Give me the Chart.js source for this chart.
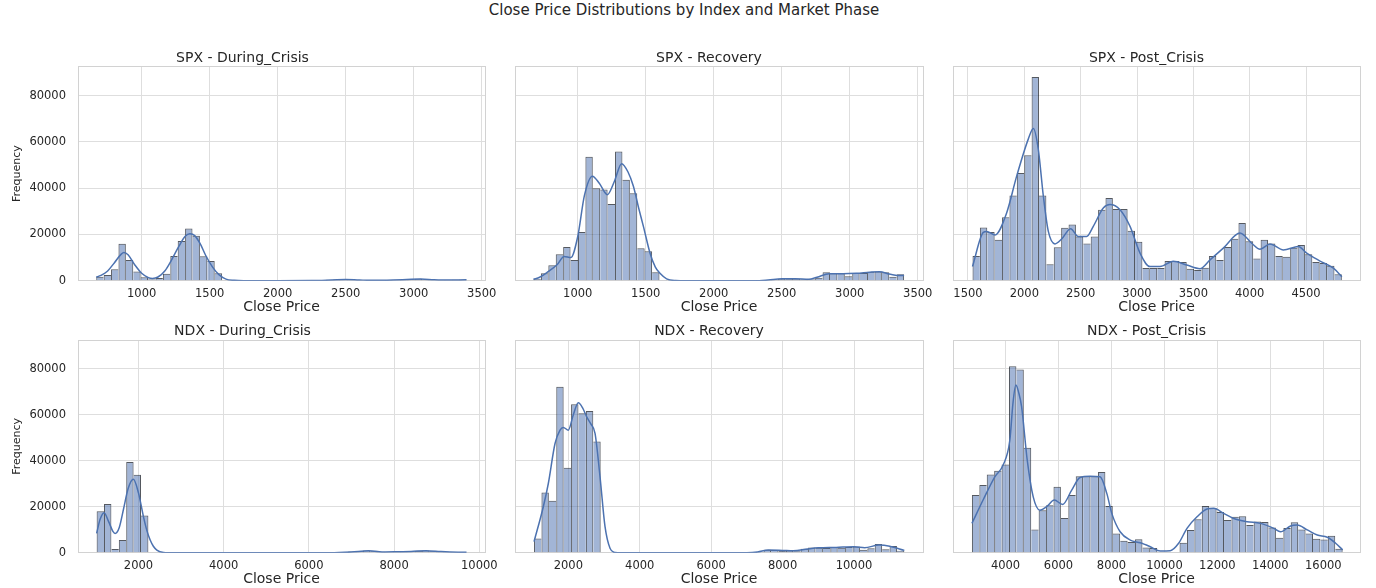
<!DOCTYPE html>
<html>
<head>
<meta charset="utf-8">
<script src="https://cdn.jsdelivr.net/npm/chart.js"></script>
<style>
html, body { margin: 0; padding: 0; background: #ffffff; }
body { width: 1376px; height: 588px; position: relative; overflow: hidden; font-family: 'DejaVu Sans', sans-serif; }
#suptitle { position: absolute; left: 0; top: 0; width: 1368px; text-align: center; font-size: 15px; line-height: 21px; color: #262626; }
canvas { position: absolute; }
</style>
</head>
<body>
<div id="suptitle">Close Price Distributions by Index and Market Phase</div>
<canvas id="c0"></canvas>
<canvas id="c1"></canvas>
<canvas id="c2"></canvas>
<canvas id="c3"></canvas>
<canvas id="c4"></canvas>
<canvas id="c5"></canvas>
<script>
// ---------------- DATA ----------------
const yTicks = [0, 20000, 40000, 60000, 80000];
const yMax = 92500;

const spxTicks = [1000, 1500, 2000, 2500, 3000, 3500];
const spxPostTicks = [1500, 2000, 2500, 3000, 3500, 4000, 4500];
const ndxTicks = [2000, 4000, 6000, 8000, 10000];
const ndxPostTicks = [4000, 6000, 8000, 10000, 12000, 14000, 16000];

// SPX - During_Crisis
const spxCrisisRange = [666, 3388];
const spxCrisisXLim = [532, 3524];
const spxCrisisCounts = [1700,2500,5000,16000,9000,4000,1500,600,1200,3000,10700,17200,22600,19400,10600,8500,3200,200,0,0,0,0,0,0,0,0,0,0,0,0,200,400,500,400,200,0,0,0,200,300,300,400,600,800,500,200,0,300,400,500];
const spxCrisisKdeX = [666,700,750,800,850,870,900,950,1000,1050,1080,1120,1170,1220,1270,1320,1355,1390,1430,1470,1520,1570,1620,1680,1750,2000,2250,2400,2500,2600,2700,2850,2950,3050,3150,3250,3388];
const spxCrisisKdeY = [1500,2300,4200,7800,11500,12200,11200,6800,3200,1300,1000,1600,4200,9000,14500,19200,20300,19500,16000,11000,6000,2500,700,150,0,0,50,300,500,300,150,300,500,700,400,250,400];

// SPX - Recovery
const spxRecovRange = [675, 3400];
const spxRecovXLim = [539, 3539];
const spxRecovCounts = [870,3200,6700,11400,14600,9000,21000,53600,40000,39400,33200,55800,43600,37800,14000,12750,3600,300,0,0,0,0,0,0,0,0,0,0,0,0,100,200,500,870,870,870,600,600,1300,3600,3200,3200,1900,3300,3300,3900,4000,3600,1700,2750];
const spxRecovKdeX = [675,720,780,850,900,950,1000,1050,1108,1160,1218,1270,1323,1370,1409,1450,1483,1532,1570,1605,1654,1720,1800,2300,2400,2500,2600,2700,2760,2850,2950,3050,3150,3220,3290,3350,3400];
const spxRecovKdeY = [600,1500,3800,7000,10500,10000,19000,37000,45200,42000,37200,43000,50600,47000,40900,31000,23500,11900,6000,3200,800,100,0,0,300,800,800,600,1500,3000,3000,3200,3700,3900,2900,2300,2200];

// SPX - Post_Crisis
const spxPostRange = [1540, 4818];
const spxPostXLim = [1367, 4979];
const spxPostCounts = [10700,23000,21000,17700,27400,36800,46500,54200,88000,36800,7100,14500,22900,24300,19100,16100,19100,30700,35800,31000,31000,21600,16800,5500,5500,5500,8500,8500,8100,5200,4600,5650,10700,9000,14600,18100,24900,17100,9600,17700,16100,10700,10300,14200,15400,11400,8100,7700,6500,2750];
const spxPostKdeX = [1540,1636,1666,1740,1843,1932,2035,2080,2124,2169,2213,2272,2331,2411,2479,2553,2612,2701,2760,2849,2938,3027,3115,3204,3322,3441,3559,3648,3766,3914,4018,4092,4180,4299,4432,4506,4624,4743,4818];
const spxPostKdeY = [6100,20900,21300,19800,29300,45200,61200,65800,56800,36500,21300,15900,18000,22500,19100,19100,23500,31400,32900,30700,23500,11900,6100,6100,8400,6800,5200,9000,14100,20600,16200,13600,15900,13300,14800,11900,8500,5400,1700];

// NDX - During_Crisis
const ndxCrisisRange = [1018, 9700];
const ndxCrisisXLim = [581, 10134];
const ndxCrisisCounts = [18000,21200,1600,5500,39400,33900,16200,0,0,0,0,0,0,0,0,0,0,0,0,0,0,0,0,0,0,0,0,0,0,0,0,0,0,200,500,700,1000,800,300,200,400,500,500,700,1000,900,600,300,200,300];
const ndxCrisisKdeX = [1018,1100,1193,1300,1400,1451,1550,1650,1760,1882,2000,2118,2200,2275,2350,2432,2588,2700,6500,7000,7400,7800,8100,8400,8750,9100,9500,9700];
const ndxCrisisKdeY = [8400,14500,17400,13500,9300,8400,11000,19000,28000,31900,26000,15600,9500,5500,2800,1160,100,0,0,300,800,300,400,500,900,500,200,150];

// NDX - Recovery
const ndxRecovRange = [1040, 11410];
const ndxRecovXLim = [507, 11932];
const ndxRecovCounts = [6200,26200,22600,72200,36900,64600,60600,61600,48400,0,0,0,0,0,0,0,0,0,0,0,0,0,0,0,0,0,0,0,0,100,400,1300,1150,700,870,870,1700,2300,2200,2000,2500,2200,2500,2750,1300,1900,3800,1450,2900,870];
const ndxRecovKdeX = [1040,1300,1440,1628,1768,1860,2000,2140,2280,2400,2514,2630,2748,2888,3028,3168,3308,3500,7000,7300,7600,8000,8300,8700,9000,9500,10000,10300,10700,11000,11410];
const ndxRecovKdeY = [4800,20000,30100,47500,53300,54500,53300,60000,65200,63000,59100,56000,51900,33000,11300,1900,100,0,0,300,1200,1000,800,1600,2100,2300,2600,2200,3300,2800,1000];

// NDX - Post_Crisis
const ndxPostRange = [2730, 16730];
const ndxPostXLim = [2016, 17385];
const ndxPostCounts = [25100,29400,34000,35600,38400,81100,79700,45600,10100,18500,20600,28700,15100,25100,33300,33300,33300,35100,20300,8400,5200,4600,5800,2300,2000,0,0,0,4300,9900,14500,20300,19400,17700,14200,15600,15900,12000,13600,13300,11000,6500,10700,13200,10100,8400,6100,5700,7400,1700];
const ndxPostKdeX = [2730,3152,3595,3909,4163,4280,4390,4500,4606,4819,5045,5298,5552,5840,6158,6498,6813,7191,7570,7823,8012,8327,8706,9085,9464,9842,10221,10536,10852,11230,11609,11859,12237,12616,13121,13626,14130,14383,14762,15015,15394,15772,16151,16466,16730];
const ndxPostKdeY = [12750,22900,33000,38100,49000,65000,72900,69500,63500,40300,24300,18500,20000,22900,21000,27200,32700,33300,33000,25800,17100,9100,5500,4300,2600,700,870,4100,10600,15600,19000,19300,17100,14900,13500,12750,10600,9100,11600,12000,9900,7700,6700,4100,1200];

// ---------------- STYLE / LAYOUT ----------------
const TEXT = '#262626';
const GRID = '#dedede';
const FRAME = '#d2d2d2';
const FILL = 'rgba(76,114,176,0.52)';
const EDGE = 'rgba(20,25,35,0.72)';
const LINE = '#4C72B0';

Chart.defaults.font.family = "'DejaVu Sans', sans-serif";
Chart.defaults.color = TEXT;

const layoutCols = [
  { left: 0,   yw: 78, width: 505, pr: 20 },
  { left: 495, yw: 20, width: 448, pr: 20 },
  { left: 933, yw: 20, width: 441, pr: 14 }
];
const layoutRows = [
  { top: 45,  height: 271, titleTop: 4.5, titleBottom: 0.4, xh: 35.3, xTitleBottom: 0.5 },
  { top: 318, height: 270, titleTop: 4.6, titleBottom: 0.6, xh: 35.3, xTitleBottom: 0 }
];

const panels = [
  { id: 'c0', col: 0, row: 0, title: 'SPX - During_Crisis', counts: spxCrisisCounts, range: spxCrisisRange, xLim: spxCrisisXLim, kdeX: spxCrisisKdeX, kdeY: spxCrisisKdeY, xTicks: spxTicks },
  { id: 'c1', col: 1, row: 0, title: 'SPX - Recovery', counts: spxRecovCounts, range: spxRecovRange, xLim: spxRecovXLim, kdeX: spxRecovKdeX, kdeY: spxRecovKdeY, xTicks: spxTicks },
  { id: 'c2', col: 2, row: 0, title: 'SPX - Post_Crisis', counts: spxPostCounts, range: spxPostRange, xLim: spxPostXLim, kdeX: spxPostKdeX, kdeY: spxPostKdeY, xTicks: spxPostTicks },
  { id: 'c3', col: 0, row: 1, title: 'NDX - During_Crisis', counts: ndxCrisisCounts, range: ndxCrisisRange, xLim: ndxCrisisXLim, kdeX: ndxCrisisKdeX, kdeY: ndxCrisisKdeY, xTicks: ndxTicks },
  { id: 'c4', col: 1, row: 1, title: 'NDX - Recovery', counts: ndxRecovCounts, range: ndxRecovRange, xLim: ndxRecovXLim, kdeX: ndxRecovKdeX, kdeY: ndxRecovKdeY, xTicks: ndxTicks },
  { id: 'c5', col: 2, row: 1, title: 'NDX - Post_Crisis', counts: ndxPostCounts, range: ndxPostRange, xLim: ndxPostXLim, kdeX: ndxPostKdeX, kdeY: ndxPostKdeY, xTicks: ndxPostTicks }
];

function align(v) { return Math.round(v - 0.5) + 0.5; }

const framePlugin = {
  id: 'frame',
  beforeDatasetsDraw(chart) {
    const a = chart.chartArea, ctx = chart.ctx;
    ctx.save();
    ctx.strokeStyle = FRAME;
    ctx.lineWidth = 1;
    const l = align(a.left), r = align(a.right), t = align(a.top), b = align(a.bottom);
    ctx.strokeRect(l, t, r - l, b - t);
    ctx.restore();
  }
};

// each shared edge between neighbouring bars is drawn once, by the taller bar
function barBorder(c) {
  const d = c.dataset.data, i = c.dataIndex;
  const v = d[i] ? d[i].y : 0;
  if (!v) return 0;
  const prev = i > 0 ? d[i - 1].y : 0;
  const next = i < d.length - 1 ? d[i + 1].y : 0;
  return { top: 1, bottom: 0, left: prev < v ? 1 : 0, right: next <= v ? 1 : 0 };
}

function makeChart(p) {
  const col = layoutCols[p.col], row = layoutRows[p.row];
  const cv = document.getElementById(p.id);
  cv.width = col.width;
  cv.height = row.height;
  cv.style.left = col.left + 'px';
  cv.style.top = row.top + 'px';
  const n = p.counts.length;
  const bw = (p.range[1] - p.range[0]) / n;
  const bars = p.counts.map((v, i) => ({ x: p.range[0] + bw * (i + 0.5), y: v }));
  const kde = p.kdeX.map((x, i) => ({ x: x, y: p.kdeY[i] }));
  const first = p.col === 0;

  new Chart(cv, {
    type: 'bar',
    data: {
      datasets: [
        { type: 'line', data: kde, borderColor: LINE, borderWidth: 1.5, pointRadius: 0,
          cubicInterpolationMode: 'monotone', fill: false, order: 0 },
        { type: 'bar', data: bars, backgroundColor: FILL, borderColor: EDGE,
          borderWidth: barBorder,
          borderSkipped: false, categoryPercentage: 1, barPercentage: 1, inflateAmount: 0, order: 1 }
      ]
    },
    options: {
      responsive: false,
      animation: false,
      devicePixelRatio: 1,
      events: [],
      layout: { padding: { left: 0, right: col.pr, top: 0, bottom: 0 } },
      plugins: {
        legend: { display: false },
        tooltip: { enabled: false },
        title: { display: true, text: p.title, color: TEXT, font: { size: 14, weight: 'normal' },
                 padding: { top: row.titleTop, bottom: row.titleBottom } }
      },
      scales: {
        x: {
          type: 'linear', min: p.xLim[0], max: p.xLim[1], offset: false,
          grid: { color: GRID, lineWidth: 1, drawTicks: false, offset: false },
          border: { display: false },
          ticks: { font: { size: 11.5 }, color: TEXT, padding: 6, maxRotation: 0, autoSkip: false,
                   callback: v => String(v) },
          title: { display: true, text: 'Close Price', color: TEXT, font: { size: 14 },
                   padding: { top: 0, bottom: row.xTitleBottom } },
          afterBuildTicks: s => { s.ticks = p.xTicks.map(v => ({ value: v })); },
          afterFit: s => { s.height = row.xh; }
        },
        y: {
          min: 0, max: yMax,
          grid: { color: GRID, lineWidth: 1, drawTicks: false },
          border: { display: false },
          ticks: { display: first, font: { size: 11.5 }, color: TEXT, padding: 12,
                   callback: v => String(v) },
          title: { display: first, text: 'Frequency', color: TEXT, font: { size: 11 },
                   padding: { top: 11, bottom: 0 } },
          afterBuildTicks: s => { s.ticks = yTicks.map(v => ({ value: v })); },
          afterFit: s => { s.width = col.yw; }
        }
      }
    },
    plugins: [framePlugin]
  });
}

panels.forEach(makeChart);
</script>
</body>
</html>
